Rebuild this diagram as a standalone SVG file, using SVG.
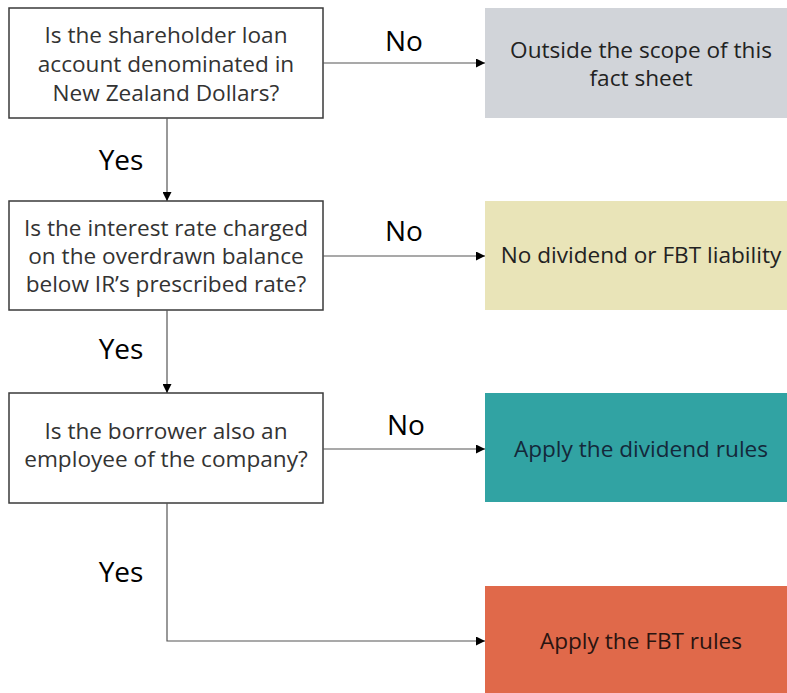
<svg xmlns="http://www.w3.org/2000/svg" width="787" height="693" viewBox="0 0 787 693">
<defs>
<marker id="arr" viewBox="0 0 10 10" refX="10" refY="5" markerWidth="9" markerHeight="9" markerUnits="userSpaceOnUse" orient="auto">
<path d="M0,0 L10,5 L0,10 Z" fill="#000"/>
</marker>
</defs>
<style>
.q rect{fill:#fff;stroke:#3a3a3a;stroke-width:1.5}
.t{font-family:"Open Sans","Noto Sans",sans-serif;font-size:22.6px;fill:#333;text-anchor:middle}
.r{font-family:"Open Sans","Noto Sans",sans-serif;font-size:22.6px;fill:#222;text-anchor:middle}
.lbl{font-family:"Open Sans","Noto Sans",sans-serif;font-size:28px;fill:#000;text-anchor:middle}
.c{fill:none;stroke:#555;stroke-width:1.2;marker-end:url(#arr)}
</style>
<rect width="787" height="693" fill="#fff"/>
<g id="q1" class="q">
<rect x="9" y="8" width="314" height="110"/>
<text class="t" x="166" y="43">Is the shareholder loan</text>
<text class="t" x="166" y="72">account denominated in</text>
<text class="t" x="166" y="101">New Zealand Dollars?</text>
</g>
<g id="q2" class="q">
<rect x="9" y="201" width="314" height="109"/>
<text class="t" x="166" y="236">Is the interest rate charged</text>
<text class="t" x="166" y="264">on the overdrawn balance</text>
<text class="t" x="166" y="292">below IR’s prescribed rate?</text>
</g>
<g id="q3" class="q">
<rect x="9" y="393" width="314" height="110"/>
<text class="t" x="166" y="439">Is the borrower also an</text>
<text class="t" x="166" y="467">employee of the company?</text>
</g>
<g id="r1">
<rect x="485" y="8" width="320" height="110" fill="#d1d4d9"/>
<text class="r" x="641" y="58">Outside the scope of this</text>
<text class="r" x="641" y="86">fact sheet</text>
</g>
<g id="r2">
<rect x="485" y="201" width="320" height="109" fill="#e9e4b8"/>
<text class="r" x="641" y="263">No dividend or FBT liability</text>
</g>
<g id="r3">
<rect x="485" y="393" width="320" height="109" fill="#31a3a3"/>
<text class="r" x="641" y="457" style="fill:#14283a">Apply the dividend rules</text>
</g>
<g id="r4">
<rect x="485" y="586" width="320" height="110" fill="#e0694a"/>
<text class="r" x="641" y="649" style="fill:#2a1410">Apply the FBT rules</text>
</g>
<g id="connectors">
<path class="c" d="M323,63 H485"/>
<path class="c" d="M167,118 V201"/>
<path class="c" d="M323,256 H485"/>
<path class="c" d="M167,310 V393"/>
<path class="c" d="M323,449 H485"/>
<path class="c" d="M167,503 V641 H485"/>
<text class="lbl" x="404" y="51">No</text>
<text class="lbl" x="404" y="241">No</text>
<text class="lbl" x="406" y="435">No</text>
<text class="lbl" x="121" y="170">Yes</text>
<text class="lbl" x="121" y="359">Yes</text>
<text class="lbl" x="121" y="582">Yes</text>
</g>
</svg>
